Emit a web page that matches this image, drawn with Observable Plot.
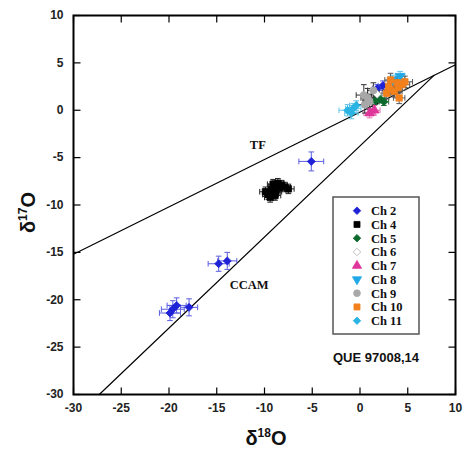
<!DOCTYPE html>
<html><head><meta charset="utf-8">
<script src="https://cdn.jsdelivr.net/npm/d3@7"></script>
<script src="https://cdn.jsdelivr.net/npm/@observablehq/plot@0.6"></script>
<style>body{margin:0;background:#fff}#chart{width:464px;height:453px}</style>
</head><body><div id="chart"></div>
<script>
// ---- data ----
const xTicks = [-30, -25, -20, -15, -10, -5, 0, 5, 10];
const yTicks = [-30, -25, -20, -15, -10, -5, 0, 5, 10];
const seriesNames = ["Ch 2", "Ch 4", "Ch 5", "Ch 6", "Ch 7", "Ch 8", "Ch 9", "Ch 10", "Ch 11"];
// [d18O, d17O, err18, err17]
const ch2 = [[-5.1,-5.4,1.3,1.0],[-14.8,-16.2,1.1,0.8],[-13.9,-15.9,1.0,0.9],[-19.6,-21.0,1.2,0.9],[-19.2,-20.6,1.0,0.8],[-19.9,-21.4,1.1,0.8],[-17.9,-20.8,0.9,0.9],[2.4,2.6,0.5,0.5],[1.8,2.3,0.5,0.4]];
const ch4 = [[-9.6,-8.9,0.6,0.5],[-9.3,-8.4,0.6,0.5],[-9.0,-8.0,0.6,0.5],[-8.8,-8.6,0.6,0.5],[-8.5,-8.2,0.6,0.5],[-8.2,-7.9,0.6,0.5],[-7.9,-8.1,0.6,0.5],[-7.5,-8.3,0.6,0.5],[-9.4,-9.2,0.6,0.5],[-8.9,-9.0,0.6,0.5],[-9.9,-8.6,0.6,0.5],[-8.6,-7.7,0.6,0.5],[-9.1,-7.8,0.6,0.5]];
const ch5 = [[1.6,1.0,0.5,0.4],[2.1,1.2,0.5,0.4],[2.5,0.9,0.5,0.4]];
const ch6 = [[1.8,1.7,0.5,0.4]];
const ch7 = [[1.0,-0.3,0.6,0.5],[1.5,0.0,0.6,0.5]];
const ch8 = [[3.4,3.2,0.5,0.5],[4.2,3.6,0.5,0.5]];
const ch9 = [[0.5,0.6,0.8,0.9],[0.8,1.3,0.7,1.0],[0.4,1.6,0.8,1.1],[1.0,0.9,0.7,0.8],[1.4,2.1,0.6,0.8]];
const ch10 = [[2.8,1.8,0.8,0.6],[3.2,2.2,0.8,0.6],[3.6,2.0,0.8,0.6],[4.0,2.4,0.8,0.6],[4.4,2.7,0.8,0.6],[4.7,3.0,0.8,0.6],[3.0,2.5,0.8,0.6],[3.9,2.9,0.8,0.6],[3.2,3.2,0.6,0.7],[4.1,1.3,0.6,0.6]];
const ch11 = [[-1.3,0.0,0.9,0.6],[-0.7,0.2,0.8,0.5],[-0.9,-0.3,0.7,0.6],[-0.4,0.5,0.7,0.5]];
const seriesData = [ch2, ch4, ch5, ch6, ch7, ch8, ch9, ch10, ch11];
const seriesColors = ["#1f22d6", "#000000", "#0b6a2c", "#ffffff", "#e0359a", "#1fa8e6", "#a8a8a8", "#f2801c", "#2ab4e4"];
const seriesStroke = ["#1f22d6", "#000000", "#0b6a2c", "#b0b0b0", "#e0359a", "#1fa8e6", "#a8a8a8", "#f2801c", "#2ab4e4"];
const errColors = ["#5a5ee0", "#222222", "#2a6a3a", "#999999", "#e070b0", "#60c0ea", "#333333", "#555555", "#60c4ea"];
const symbolNames = ["diamond2", "square", "diamond2", "diamond2", "triangle", "triangleDown", "circle", "square", "diamond2"];
const tfLine = [[-30, -15.2], [10, 4.8]];
const ccamLine = [[-27.3, -30], [7.75, 3.68]];
const lineLabels = [{text: "TF", x: -10.7, y: -3.7}, {text: "CCAM", x: -11.6, y: -18.4}];
const sampleName = "QUE 97008,14";

// ---- symbols ----
const triangleDown = {draw(c, size) {
  const y = -Math.sqrt(size / (Math.sqrt(3) * 3));
  c.moveTo(0, -y * 2); c.lineTo(-Math.sqrt(3) * y, y); c.lineTo(Math.sqrt(3) * y, y); c.closePath();
}};
const vCap = {draw(c, size) { const h = Math.sqrt(size) / 2; c.moveTo(0, -h); c.lineTo(0, h); }};
const hCap = {draw(c, size) { const h = Math.sqrt(size) / 2; c.moveTo(-h, 0); c.lineTo(h, 0); }};
const symbolOf = (name) => name === "triangleDown" ? triangleDown : name;

// ---- marks ----
const marks = [];
marks.push(Plot.line(tfLine, {x: d => d[0], y: d => d[1], stroke: "black", strokeWidth: 1.2}));
marks.push(Plot.line(ccamLine, {x: d => d[0], y: d => d[1], stroke: "black", strokeWidth: 1.2}));
marks.push(Plot.text(lineLabels, {x: "x", y: "y", text: "text", fontFamily: "Liberation Serif", fontWeight: "bold", fontSize: 12.5, fill: "#111"}));

seriesData.forEach((data, i) => {
  const ec = errColors[i];
  marks.push(Plot.link(data, {x1: d => d[0] - d[2], x2: d => d[0] + d[2], y1: d => d[1], y2: d => d[1], stroke: ec, strokeWidth: 1}));
  marks.push(Plot.link(data, {x1: d => d[0], x2: d => d[0], y1: d => d[1] - d[3], y2: d => d[1] + d[3], stroke: ec, strokeWidth: 1}));
  marks.push(Plot.dot(data, {x: d => d[0] - d[2], y: d => d[1], symbol: vCap, r: 3.2, fill: "none", stroke: ec, strokeWidth: 1}));
  marks.push(Plot.dot(data, {x: d => d[0] + d[2], y: d => d[1], symbol: vCap, r: 3.2, fill: "none", stroke: ec, strokeWidth: 1}));
  marks.push(Plot.dot(data, {x: d => d[0], y: d => d[1] - d[3], symbol: hCap, r: 3.2, fill: "none", stroke: ec, strokeWidth: 1}));
  marks.push(Plot.dot(data, {x: d => d[0], y: d => d[1] + d[3], symbol: hCap, r: 3.2, fill: "none", stroke: ec, strokeWidth: 1}));
});
seriesData.forEach((data, i) => {
  marks.push(Plot.dot(data, {x: d => d[0], y: d => d[1], symbol: symbolOf(symbolNames[i]), r: 3.6,
    fill: seriesColors[i], stroke: seriesStroke[i], strokeWidth: 0.8}));
});

// axes: tick labels outside; inward tick marks drawn as fixed-pixel symbols at the frame edges
const txt = {fontSize: 12, fontWeight: "bold", fill: "#222", label: null, tickFormat: d => String(d)};
marks.push(Plot.axisX(xTicks, {anchor: "bottom", tickSize: 0, tickPadding: 9, ...txt}));
marks.push(Plot.axisY(yTicks, {anchor: "left", tickSize: 0, tickPadding: 10, ...txt}));
const vTick = {draw(c, size) { const h = Math.sqrt(size); c.moveTo(0, 0); c.lineTo(0, h); }};
const vTickUp = {draw(c, size) { const h = Math.sqrt(size); c.moveTo(0, 0); c.lineTo(0, -h); }};
const hTick = {draw(c, size) { const h = Math.sqrt(size); c.moveTo(0, 0); c.lineTo(h, 0); }};
const hTickLeft = {draw(c, size) { const h = Math.sqrt(size); c.moveTo(0, 0); c.lineTo(-h, 0); }};
const tickR = 7 / Math.sqrt(Math.PI);
const tickStyle = {r: tickR, fill: "none", stroke: "black", strokeWidth: 1.2};
marks.push(Plot.dot(xTicks, {x: d => d, frameAnchor: "bottom", symbol: vTickUp, ...tickStyle}));
marks.push(Plot.dot(xTicks, {x: d => d, frameAnchor: "top", symbol: vTick, ...tickStyle}));
marks.push(Plot.dot(yTicks, {y: d => d, frameAnchor: "left", symbol: hTick, ...tickStyle}));
marks.push(Plot.dot(yTicks, {y: d => d, frameAnchor: "right", symbol: hTickLeft, ...tickStyle}));
marks.push(Plot.frame({stroke: "black", strokeWidth: 2}));

const plot = Plot.plot({
  width: 464, height: 453,
  marginLeft: 73, marginRight: 9, marginTop: 15, marginBottom: 59,
  x: {domain: [-30, 10]},
  y: {domain: [-30, 10]},
  style: {fontFamily: "'Liberation Sans', Arial, sans-serif", background: "white", color: "black"},
  marks
});
document.getElementById("chart").appendChild(plot);

// ---- axis titles, legend and sample name ----
const svg = d3.select(plot);
const xs = plot.scale("x"), ys = plot.scale("y");
const fLeft = xs.range[0], fRight = xs.range[1], fTop = ys.range[1], fBottom = ys.range[0];

function deltaLabel(g, sup) {
  g.append("tspan").text("δ");
  g.append("tspan").attr("dy", -8).attr("font-size", 12).text(sup);
  g.append("tspan").attr("dy", 8).text("O");
}
svg.append("text").attr("x", (fLeft + fRight) / 2 + 2).attr("y", fBottom + 51)
  .attr("text-anchor", "middle").attr("font-size", 20).attr("font-weight", "bold")
  .attr("font-family", "'Liberation Sans', Arial, sans-serif").attr("fill", "#111")
  .call(g => deltaLabel(g, "18"));
svg.append("text").attr("transform", `translate(${fLeft - 38},${(fTop + fBottom) / 2 + 8}) rotate(-90)`)
  .attr("text-anchor", "middle").attr("font-size", 20).attr("font-weight", "bold")
  .attr("font-family", "'Liberation Sans', Arial, sans-serif").attr("fill", "#111")
  .call(g => deltaLabel(g, "17"));

const lg = svg.append("g").attr("transform", `translate(${fRight - 122},${fTop + 182})`);
lg.append("rect").attr("width", 86).attr("height", 137).attr("fill", "white").attr("stroke", "#555").attr("stroke-width", 1.5);
seriesNames.forEach((name, i) => {
  const y = 13.7 + i * 13.75;
  const s = symbolOf(symbolNames[i]);
  const sym = typeof s === "string" ? {diamond2: d3.symbolDiamond2, square: d3.symbolSquare, triangle: d3.symbolTriangle, circle: d3.symbolCircle}[s] : s;
  lg.append("path").attr("transform", `translate(24,${y})`)
    .attr("d", d3.symbol(sym, Math.PI * 3.4 * 3.4)())
    .attr("fill", seriesColors[i]).attr("stroke", seriesStroke[i]).attr("stroke-width", 0.8);
  lg.append("text").attr("x", 38).attr("y", y).attr("dy", "0.35em").attr("text-anchor", "start")
    .attr("font-family", "'Liberation Serif', 'Times New Roman', serif").attr("font-weight", "bold")
    .attr("font-size", 12.5).attr("fill", "#111").text(name);
});
svg.append("text").attr("x", fRight - 79).attr("y", fTop + 347).attr("text-anchor", "middle")
  .attr("font-family", "'Liberation Sans', Arial, sans-serif").attr("font-weight", "bold")
  .attr("font-size", 13).attr("fill", "#111").text(sampleName);
</script>
</body></html>
